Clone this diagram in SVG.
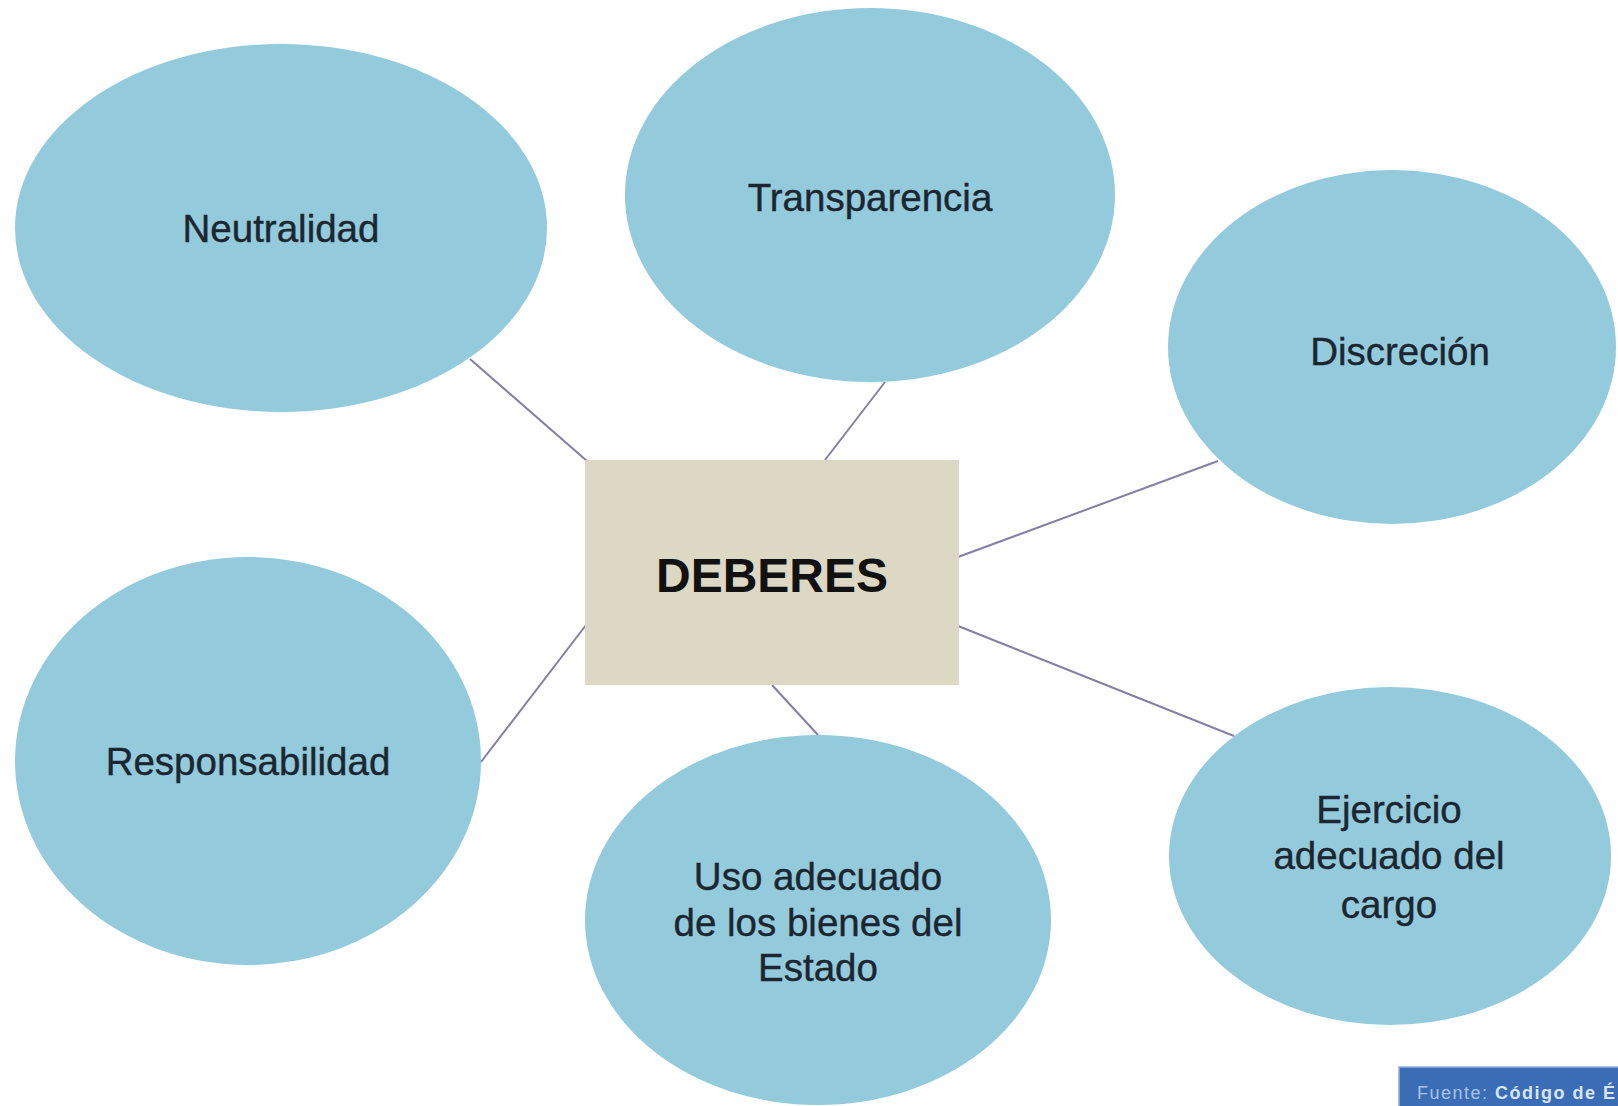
<svg xmlns="http://www.w3.org/2000/svg" width="1618" height="1106" viewBox="0 0 1618 1106">
<style>
.bub{fill:#93cadc;}
.lbl{font-family:"Liberation Sans",Arial,sans-serif;font-size:38.5px;fill:#1c2630;stroke:#1c2630;stroke-width:0.4;text-anchor:middle;}
.con{stroke:#857fa3;stroke-width:2;fill:none;}
</style>
<rect width="1618" height="1106" fill="#ffffff"/>
<g id="connectors">
<line class="con" x1="470" y1="359" x2="587" y2="461"/>
<line class="con" x1="885" y1="382" x2="825" y2="460"/>
<line class="con" x1="1218" y1="461" x2="958" y2="557"/>
<line class="con" x1="586" y1="625" x2="481" y2="762"/>
<line class="con" x1="772" y1="685" x2="818" y2="735"/>
<line class="con" x1="958" y1="626" x2="1234" y2="736"/>
</g>
<g id="neutralidad">
<ellipse class="bub" cx="281" cy="228" rx="266" ry="184"/>
<text class="lbl" x="281" y="242">Neutralidad</text>
</g>
<g id="transparencia">
<ellipse class="bub" cx="870" cy="195" rx="245" ry="187"/>
<text class="lbl" x="870" y="211">Transparencia</text>
</g>
<g id="discrecion">
<ellipse class="bub" cx="1392" cy="347" rx="224" ry="177"/>
<text class="lbl" x="1400" y="365">Discreción</text>
</g>
<g id="responsabilidad">
<ellipse class="bub" cx="248" cy="761" rx="233" ry="204"/>
<text class="lbl" x="248" y="775">Responsabilidad</text>
</g>
<g id="uso">
<ellipse class="bub" cx="818" cy="920" rx="233" ry="185"/>
<text class="lbl" x="818" y="890">Uso adecuado</text>
<text class="lbl" x="818" y="936">de los bienes del</text>
<text class="lbl" x="818" y="981">Estado</text>
</g>
<g id="ejercicio">
<ellipse class="bub" cx="1390" cy="856" rx="221" ry="169"/>
<text class="lbl" x="1389" y="823">Ejercicio</text>
<text class="lbl" x="1389" y="869">adecuado del</text>
<text class="lbl" x="1389" y="918">cargo</text>
</g>
<g id="deberes">
<rect x="585" y="460" width="374" height="225" fill="#ddd8c3"/>
<text x="772" y="592" font-family="Liberation Sans,Arial,sans-serif" font-size="48" font-weight="bold" fill="#111111" text-anchor="middle">DEBERES</text>
</g>
<g id="fuente">
<rect x="1399" y="1067" width="225" height="45" fill="#3b6cb6" stroke="#8fb0dc" stroke-width="1.5"/>
<text x="1417" y="1099" font-family="Liberation Sans,Arial,sans-serif" font-size="18" letter-spacing="1.5" fill="#a9c3ea">Fuente: <tspan font-weight="bold" fill="#d9e5f6">Código de É</tspan></text>
</g>
</svg>
